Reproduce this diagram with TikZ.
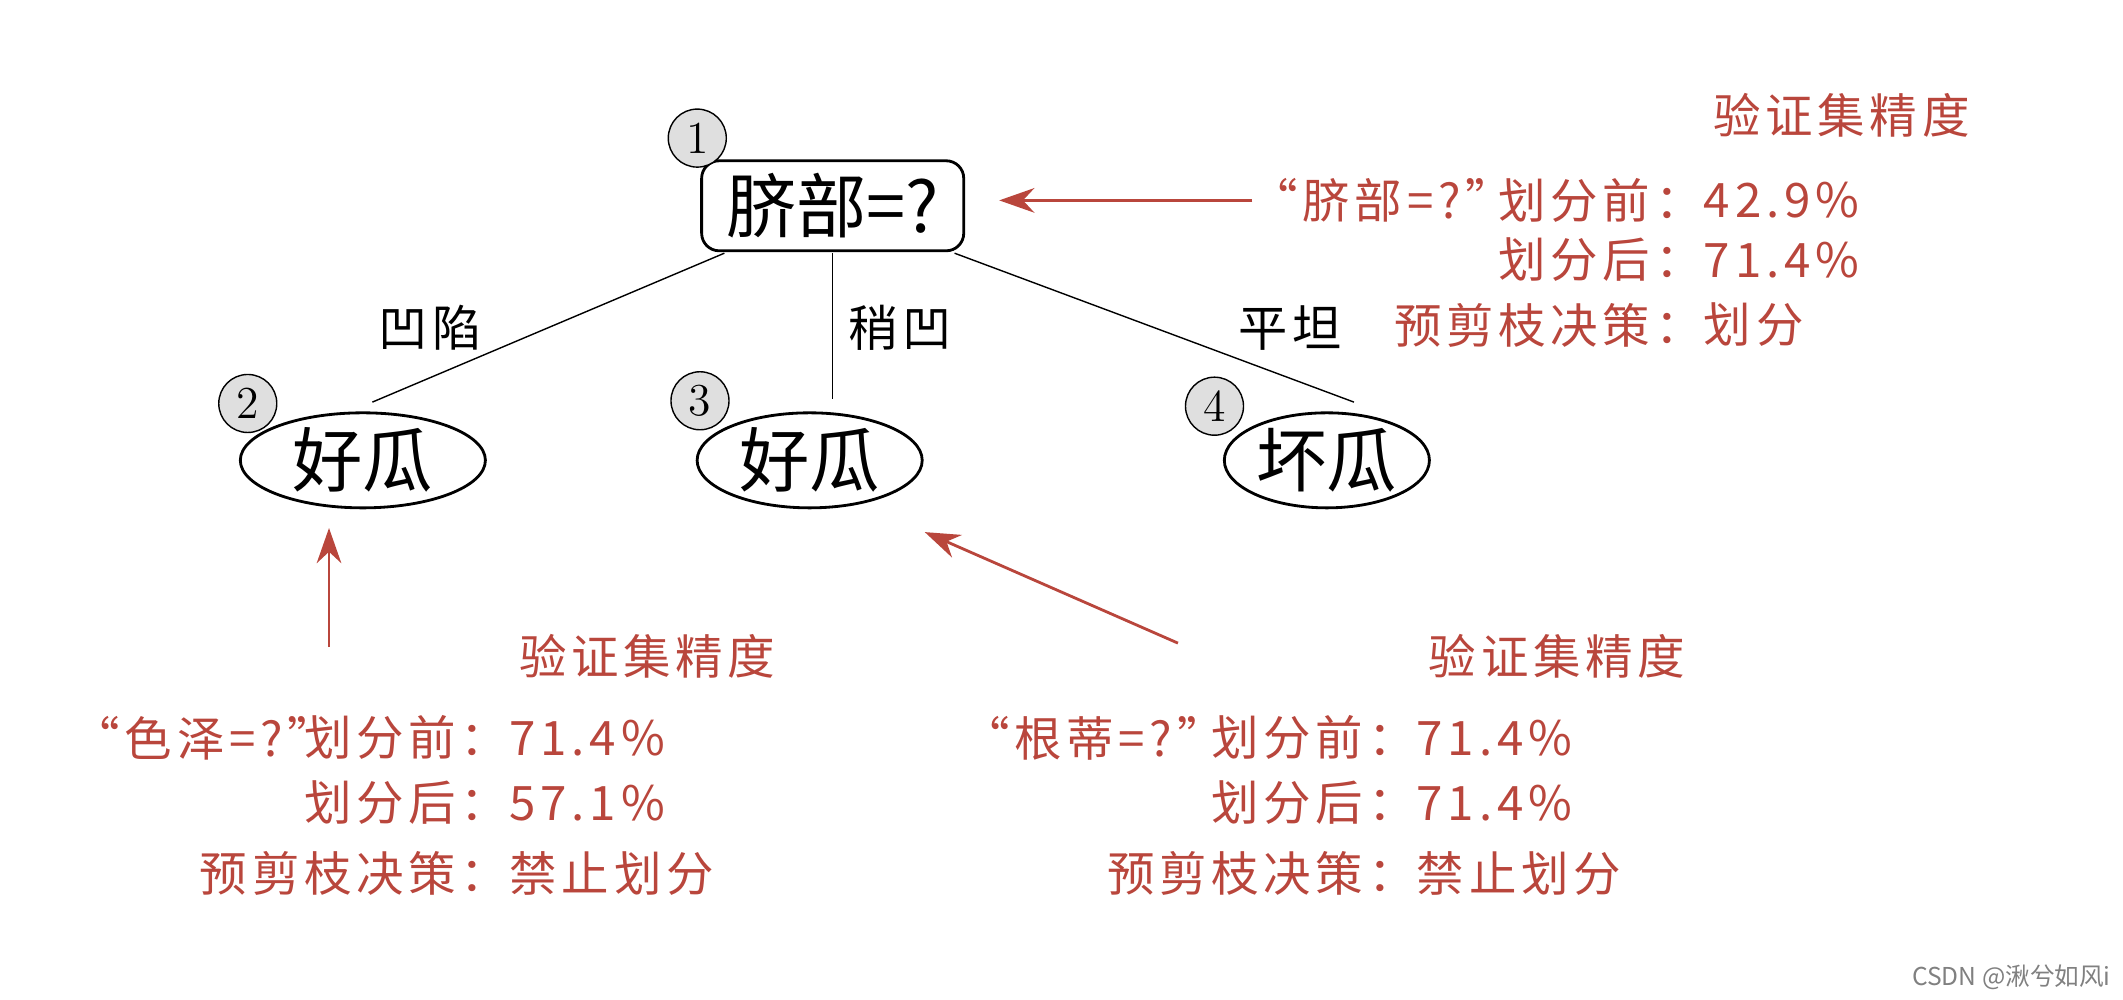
\documentclass[tikz,border=0pt]{standalone}
\usepackage{fontspec}
\newfontfamily\cjk{Noto Sans CJK SC}
\newfontfamily\cjkr{Noto Sans CJK SC}[LetterSpace=10]
\usetikzlibrary{shapes.geometric,arrows.meta}
\definecolor{rd}{RGB}{185,70,60}
\begin{document}
\begin{tikzpicture}[x=0.01354cm,y=-0.01354cm,font=\cjk,
 rt/.style={text=rd,font=\cjkr\fontsize{13.5}{17}\selectfont,inner sep=0pt},
 nd/.style={font=\cjk\fontsize{20}{24}\selectfont},
 lf/.style={nd,draw,thick,ellipse,inner sep=0pt},
 num/.style={circle,draw,fill=gray!25,minimum size=0.58cm,inner sep=0pt,font=\fontsize{13}{15}\selectfont},
 el/.style={font=\cjkr\fontsize{14}{17}\selectfont},
 ra/.style={rd,thick,-{Stealth[length=10pt,width=7pt]}}]
\useasboundingbox (0,0) rectangle (1568,738);
\node[nd,draw,thick,rounded corners=5pt,minimum width=2.62cm,minimum height=0.9cm] (r) at (615,152) {脐部=?};
\node[num] (n1) at (515,102) {1};
\node[lf,minimum width=2.45cm,minimum height=0.95cm] (a) at (268,340) {好瓜};
\node[lf,minimum width=2.25cm,minimum height=0.95cm] (b) at (598,340) {好瓜};
\node[lf,minimum width=2.05cm,minimum height=0.95cm] (c) at (980,340) {坏瓜};
\node[num] (n2) at (183,298) {2};
\node[num] (n3) at (517,296) {3};
\node[num] (n4) at (897,300) {4};
\coordinate (r1) at (535,187); \coordinate (r2) at (615,187); \coordinate (r3) at (705,187);
\coordinate (a1) at (275,297); \coordinate (b1) at (615,295); \coordinate (c1) at (1000,297);
\draw (r1) -- (a1); \draw (r2) -- (b1); \draw (r3) -- (c1);
\node[el] (l1) at (318,242) {凹陷};
\node[el] (l2) at (665,242) {稍凹};
\node[el] (l3) at (953,242) {平坦};
% top right
\coordinate (t0) at (925,148); \coordinate (t1) at (738,148);
\draw[ra] (t0) -- (t1);
\node[rt] (h1) at (1360,85) {验证集精度};
\node[rt,anchor=east] (q1) at (1118,148) {“脐部=?”};
\node[rt,anchor=east] (p1) at (1258,148) {划分前：};
\node[rt,anchor=west] (v1) at (1258,148) {42.9\%};
\node[rt,anchor=east] (p2) at (1258,192) {划分后：};
\node[rt,anchor=west] (v2) at (1258,192) {71.4\%};
\node[rt,anchor=east] (p3) at (1258,240) {预剪枝决策：};
\node[rt,anchor=west] (v3) at (1258,240) {划分};
% bottom left
\coordinate (u0) at (243,478); \coordinate (u1) at (243,390);
\draw[ra] (u0) -- (u1);
\node[rt] (h2) at (478,485) {验证集精度};
\node[rt,anchor=east] (q2) at (248,545) {“色泽=?”};
\node[rt,anchor=east] (p4) at (376,545) {划分前：};
\node[rt,anchor=west] (v4) at (376,545) {71.4\%};
\node[rt,anchor=east] (p5) at (376,593) {划分后：};
\node[rt,anchor=west] (v5) at (376,593) {57.1\%};
\node[rt,anchor=east] (p6) at (376,645) {预剪枝决策：};
\node[rt,anchor=west] (v6) at (376,645) {禁止划分};
% bottom right
\coordinate (w0) at (870,475); \coordinate (w1) at (683,393);
\draw[ra] (w0) -- (w1);
\node[rt] (h3) at (1150,485) {验证集精度};
\node[rt,anchor=east] (q3) at (905,545) {“根蒂=?”};
\node[rt,anchor=east] (p7) at (1046,545) {划分前：};
\node[rt,anchor=west] (v7) at (1046,545) {71.4\%};
\node[rt,anchor=east] (p8) at (1046,593) {划分后：};
\node[rt,anchor=west] (v8) at (1046,593) {71.4\%};
\node[rt,anchor=east] (p9) at (1046,645) {预剪枝决策：};
\node[rt,anchor=west] (v9) at (1046,645) {禁止划分};
\node[font=\cjk\fontsize{7}{9}\selectfont,text=gray,anchor=east,inner sep=1pt] (cs) at (1562,722) {CSDN @湫兮如风i};
\end{tikzpicture}
\end{document}
